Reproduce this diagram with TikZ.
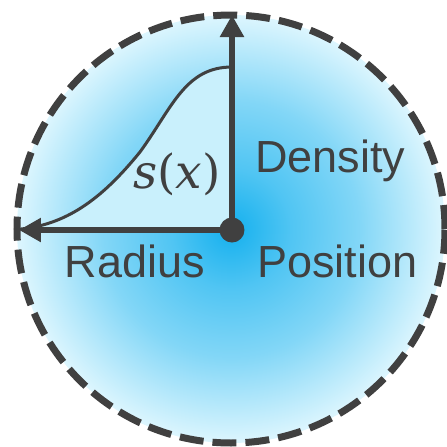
\documentclass[tikz,border=0pt]{standalone}
\usepackage{fontspec}
\setmainfont{Liberation Sans}
\newfontfamily\formula{DejaVu Serif}
\usetikzlibrary{arrows.meta}
\definecolor{ink}{HTML}{404040}
\definecolor{core}{HTML}{14B0EE}
\definecolor{halo}{HTML}{DDF6FE}
\definecolor{under}{HTML}{C9F0FC}
\pgfdeclareradialshading{glow}{\pgfpoint{0bp}{0bp}}{color(0bp)=(core); color(7bp)=(core!70!halo); color(15bp)=(core!45!halo); color(25bp)=(halo); color(50bp)=(halo)}

\begin{document}
\begin{tikzpicture}[x=0.5pt, y=-0.5pt, draw=ink, text=ink,
  word/.style={font=\fontsize{22.5}{27}\selectfont, inner sep=0pt},
  ray/.style={line width=3pt, -{Triangle[length=11pt,width=11.5pt]}}]
\useasboundingbox (0,0) rectangle (447,447);
\coordinate (c) at (232,230);
\coordinate (top) at (232,15);
\coordinate (left) at (19,230);
% the blurred particle and its border
\shade[shading=glow] (231,229) circle (107pt);
\draw[line width=3.5pt, dash pattern=on 12pt off 4.5pt] (231,229) circle (107pt);
% density profile along the radius
\filldraw[fill=under, line width=1.5pt, line join=round] (21,229) .. controls (70,224) and (105,195) .. (140,152)
  .. controls (172,108) and (185,67) .. (232,67) -- (c) -- cycle;
\draw[ray] (c) -- (top);
\draw[ray] (c) -- (left);
\node[circle, fill=ink, minimum size=12.5pt, inner sep=0pt] (hub) at (c) {};
\node[word, font=\formula\fontsize{23.5}{28}\selectfont, anchor=base] (sx) at (177,188) {\textit{s}(\textit{x})};
\node[word, anchor=base west] (dens) at (255,172) {Density};
\node[word, anchor=base west] (pos) at (257,277) {Position};
\node[word, anchor=base east] (rad) at (205,277) {Radius};
\end{tikzpicture}
\end{document}
